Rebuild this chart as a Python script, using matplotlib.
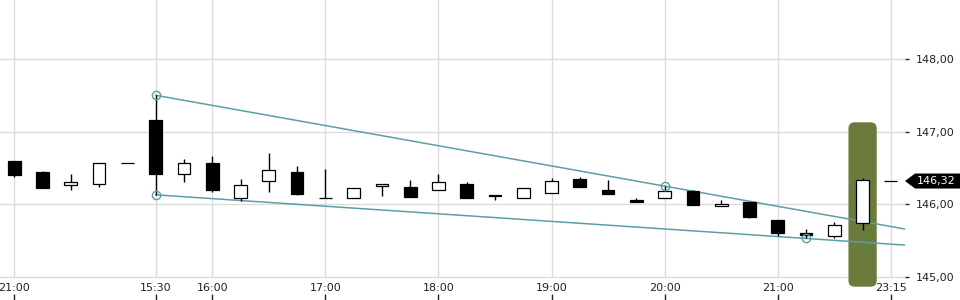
import numpy as np
import matplotlib
matplotlib.use('Agg')
import matplotlib.pyplot as plt
import matplotlib.transforms as mtransforms
from matplotlib.patches import FancyBboxPatch, Polygon
from matplotlib.ticker import FuncFormatter

# 15 minute candles
opens = [146.59, 146.45, 146.26, 146.28, 146.57, 147.16, 146.41, 146.57,
         146.09, 146.32, 146.44, 146.09, 146.08, 146.25, 146.24, 146.19,
         146.28, 146.13, 146.09, 146.15, 146.35, 146.19, 146.06, 146.09,
         146.18, 145.97, 146.03, 145.79, 145.61, 145.57, 145.74, 146.32]
highs = [146.60, 146.46, 146.41, 146.57, 146.57, 147.50, 146.63, 146.67,
         146.35, 146.71, 146.52, 146.49, 146.23, 146.28, 146.34, 146.41,
         146.31, 146.13, 146.22, 146.36, 146.38, 146.34, 146.08, 146.25,
         146.20, 146.06, 146.03, 145.79, 145.66, 145.75, 146.36, 146.32]
lows = [146.38, 146.23, 146.20, 146.24, 146.57, 146.13, 146.31, 146.17,
        146.05, 146.17, 146.13, 146.08, 146.08, 146.12, 146.10, 146.19,
        146.09, 146.06, 146.09, 146.15, 146.24, 146.14, 146.03, 146.09,
        145.99, 145.97, 145.81, 145.57, 145.53, 145.54, 145.65, 146.32]
closes = [146.40, 146.23, 146.30, 146.57, 146.57, 146.41, 146.57, 146.19,
          146.27, 146.47, 146.14, 146.08, 146.23, 146.28, 146.10, 146.30,
          146.09, 146.11, 146.22, 146.32, 146.24, 146.14, 146.03, 146.18,
          145.99, 146.01, 145.82, 145.61, 145.58, 145.71, 146.33, 146.32]

tick_pos = [0, 5, 7, 11, 15, 19, 23, 27, 31]
tick_labels = ['21:00', '15:30', '16:00', '17:00', '18:00', '19:00',
               '20:00', '21:00', '23:15']
y_ticks = [145, 146, 147, 148]

# trend channel anchor points (candle index, price)
upper_pts = [(5, 147.50), (23, 146.25)]
lower_pts = [(5, 146.13), (28, 145.53)]

highlight_idx = 30
last_price = 146.32

grid_c = '#dcdcdc'
teal = '#5b9fa6'
olive = '#6a7c3b'

fig = plt.figure(figsize=(9.6, 3), dpi=100)
ax = fig.add_axes([0, 0, 905 / 960, 1])
x_lo, x_hi = -0.506, 31.5
ax.set_xlim(x_lo, x_hi)
ax.set_ylim(144.683, 148.811)
for s in ax.spines.values():
    s.set_visible(False)

# grid
ax.grid(axis='y', color=grid_c, lw=1)
ax.set_axisbelow(True)
ax.vlines(tick_pos, 145, 148.811, color=grid_c, lw=1, zorder=0)

# highlight box behind the last full candle
rx = 28.28 / 72.67
ax.add_patch(FancyBboxPatch((highlight_idx - 0.5, 144.866), 1.0, 147.128 - 144.866,
                            boxstyle='round,pad=0,rounding_size=0.22',
                            mutation_aspect=rx, fc=olive, ec='none', zorder=1))

# candles
x = np.arange(len(opens))
o = np.array(opens)
c = np.array(closes)
ax.vlines(x, lows, highs, color='black', lw=1, zorder=3)
face = ['black' if cc < oo else 'white' for oo, cc in zip(o, c)]
ax.bar(x, np.abs(c - o), bottom=np.minimum(o, c), width=0.45, color=face,
       edgecolor='black', linewidth=0.9, zorder=4)

# trend channel
for pts in (upper_pts, lower_pts):
    (x0, y0), (x1, y1) = pts
    slope = (y1 - y0) / (x1 - x0)
    ax.plot([x0, x_hi], [y0, y0 + slope * (x_hi - x0)], color=teal, lw=1.1, zorder=2)
ax.plot([upper_pts[0][0], lower_pts[0][0], upper_pts[1][0], lower_pts[1][0]],
        [upper_pts[0][1], lower_pts[0][1], upper_pts[1][1], lower_pts[1][1]],
        ls='none', marker='o', ms=6, mfc='none', mec=teal, mew=1, zorder=5)

# axes ticks
ax.set_xticks(tick_pos)
ax.set_xticklabels(tick_labels)
ax.tick_params(axis='x', direction='in', length=4.3, width=1, pad=-12.3,
               labelsize=8, colors='#222222')
ax.yaxis.tick_right()
ax.set_yticks(y_ticks)
ax.yaxis.set_major_formatter(FuncFormatter(lambda v, p: f'{v:.2f}'.replace('.', ',')))
ax.tick_params(axis='y', length=3, width=1, pad=5, labelsize=8, colors='#222222')

# last price tag
tr = mtransforms.blended_transform_factory(ax.transAxes, ax.transData)
hh = 7.5 / 72.67
tag = Polygon([(1.0, last_price), (1 + 10 / 905, last_price + hh),
               (1 + 60 / 905, last_price + hh), (1 + 60 / 905, last_price - hh),
               (1 + 10 / 905, last_price - hh)],
              closed=True, fc='black', ec='none', transform=tr, clip_on=False)
ax.add_patch(tag)
ax.text(1 + 31 / 905, last_price, f'{last_price:.2f}'.replace('.', ','),
        color='white', fontsize=8, ha='center', va='center', transform=tr)

fig.savefig('out.png', dpi=100)
